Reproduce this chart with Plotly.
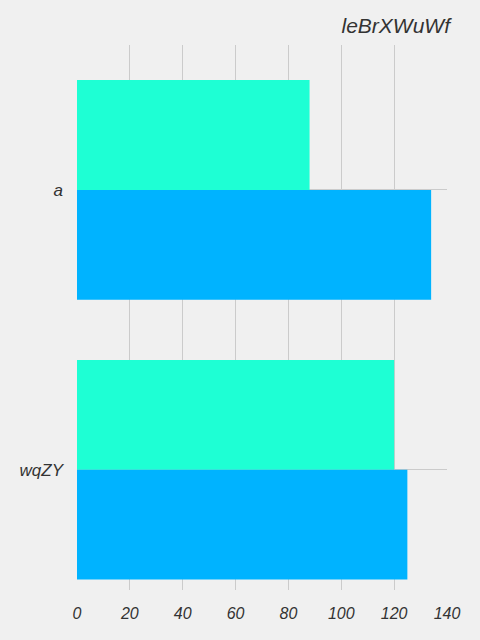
import plotly.graph_objects as go

categories = ["a", "wqZY"]
series_top = [88, 120]
series_bottom = [134, 125]
x_ticks = [0, 20, 40, 60, 80, 100, 120, 140]
title_text = "leBrXWuWf"

W, H = 480, 640
L, R, T, B = 76.5, 33, 45, 50

fig = go.Figure()
fig.add_trace(go.Bar(y=categories, x=series_top, orientation="h",
                     marker=dict(color="#1effd4", line=dict(width=0)), showlegend=False))
fig.add_trace(go.Bar(y=categories, x=series_bottom, orientation="h",
                     marker=dict(color="#00b3ff", line=dict(width=0)), showlegend=False))

font_fam = "Liberation Sans, Arial, sans-serif"
fig.update_layout(
    width=W, height=H,
    margin=dict(l=L, r=R, t=T, b=B),
    paper_bgcolor="#f0f0f0", plot_bgcolor="#f0f0f0",
    barmode="group", bargap=0.215, bargroupgap=0,
    title=dict(text=title_text, x=450 / W, xanchor="right", xref="container",
               y=1 - 26 / H, yanchor="middle", yref="container",
               font=dict(family=font_fam, size=21, color="#333333", style="italic")),
    xaxis=dict(range=[0, 140], tickvals=x_ticks, showgrid=True, gridcolor="#cbcbcb",
               gridwidth=1, zeroline=False, showline=False,
               tickfont=dict(family=font_fam, size=16, color="#333333", style="italic"),
               ticklabelstandoff=12),
    yaxis=dict(range=[1.43, -0.518], showgrid=True, gridcolor="#cbcbcb", gridwidth=1,
               zeroline=False, showline=False,
               tickfont=dict(family=font_fam, size=17, color="#333333", style="italic"),
               ticklabelstandoff=13),
)

fig.write_html("out.html")
